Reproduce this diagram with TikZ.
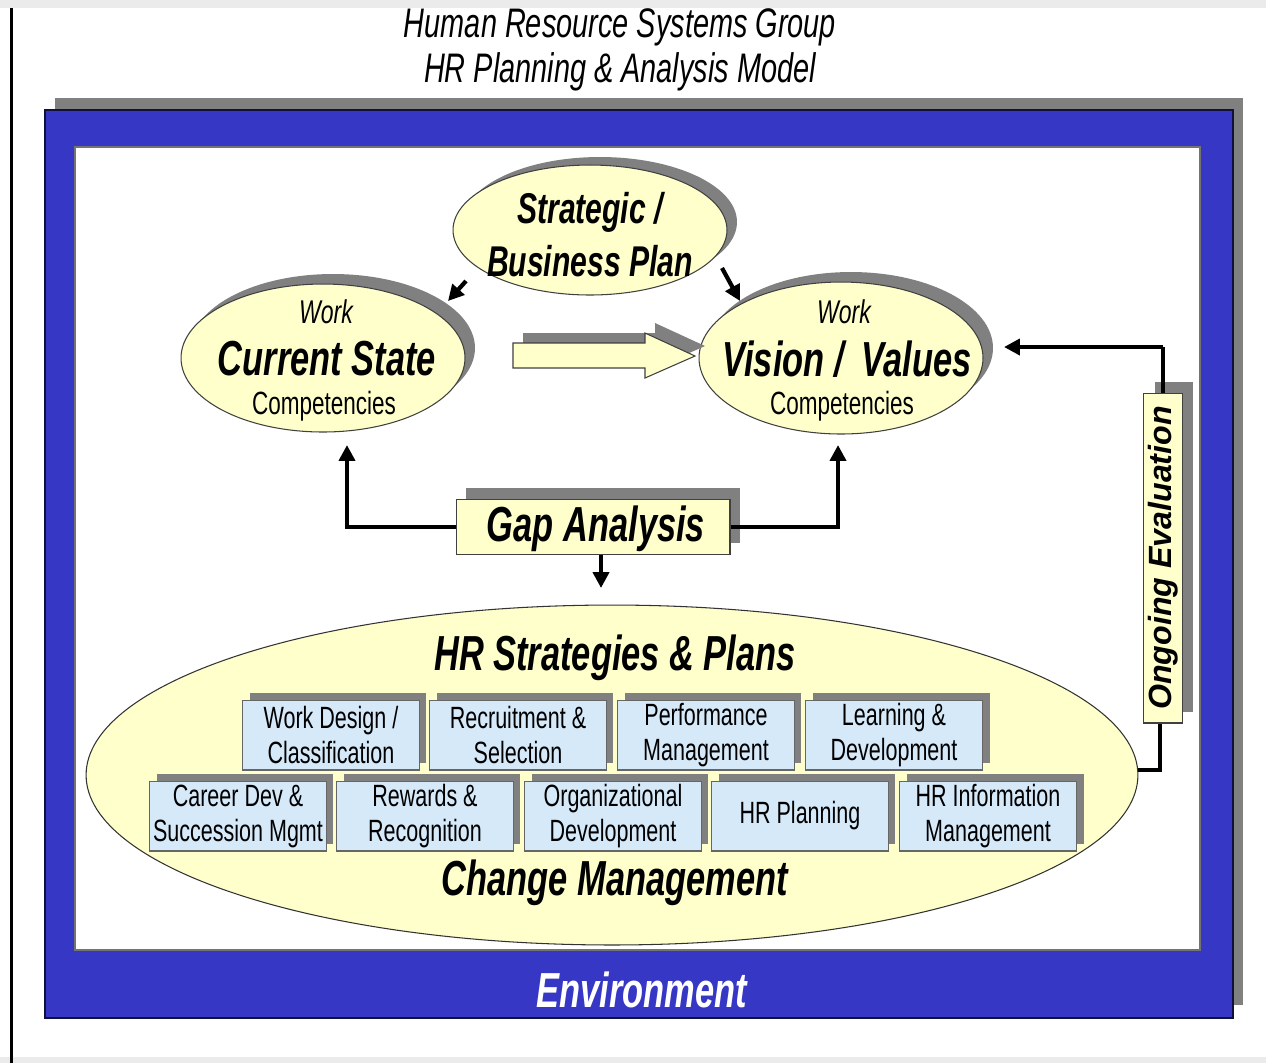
\documentclass[tikz,border=0pt]{standalone}
\usepackage{fontspec}
\setmainfont{Liberation Sans}
\newfontfamily\nar[FakeStretch=0.70]{Liberation Sans}
\usetikzlibrary{shapes.geometric,arrows.meta}
\definecolor{ylw}{HTML}{FFFFCC}
\definecolor{envblue}{HTML}{3737C6}
\definecolor{shd}{HTML}{808080}
\definecolor{bx}{HTML}{D5E9F9}
\begin{document}
\begin{tikzpicture}[x=0.02cm,y=-0.02cm,
  ell/.style={ellipse,draw=black!75,line width=0.6pt,fill=ylw,inner sep=0pt},
  ellshd/.style={ellipse,fill=shd,inner sep=0pt},
  arr/.style={line width=2.4pt,-{Triangle[length=9pt,width=9pt]}},
  conn/.style={line width=2.4pt},
  hrbox/.style={rectangle,fill=bx,draw=black!60,line width=0.6pt,minimum width=3.54cm,minimum height=1.4cm,inner sep=0pt,align=center,font=\nar\fontsize{17.5}{20}\selectfont},
  boxshd/.style={rectangle,fill=shd,minimum width=3.54cm,minimum height=1.4cm,inner sep=0pt},
  ttl/.style={font=\nar\itshape\fontsize{23.5}{26}\selectfont},
  big/.style={font=\nar\bfseries\itshape\fontsize{28}{30}\selectfont},
  sml/.style={font=\nar\fontsize{18.3}{20}\selectfont},
  smli/.style={font=\nar\itshape\fontsize{18.7}{20}\selectfont}
]
\useasboundingbox (0,0) rectangle (1266,1063);
% page edges
\fill[black!8] (0,0) rectangle (1266,8);
\fill[black!8] (0,1057) rectangle (1266,1063);
\fill[black] (10,8) rectangle (13,1063);
% title
\node[ttl] (t1) at (620,27) {Human Resource Systems Group};
\node[ttl] (t2) at (620,72) {HR Planning \& Analysis Model};
% frame
\fill[shd] (55,98) rectangle (1243,1005);
\filldraw[fill=envblue,draw=black!70!envblue,line width=0.8pt] (45,110) rectangle (1233,1018);
\filldraw[fill=white,draw=black!55,line width=1pt] (75,147) rectangle (1200,950);
\node[big,text=white] (env) at (642,990) {Environment};
% strategic
\node[ellshd,minimum width=5.48cm,minimum height=2.6cm] (strats) at (600,222) {};
\node[ell,minimum width=5.48cm,minimum height=2.6cm] (strat) at (590,230) {};
\node[big,font=\nar\bfseries\itshape\fontsize{24.5}{28}\selectfont] (st1) at (590,212) {Strategic /};
\node[big,font=\nar\bfseries\itshape\fontsize{24.5}{28}\selectfont] (st2) at (590,261) {Business Plan};
% current state
\node[ellshd,minimum width=5.68cm,minimum height=2.96cm] (curs) at (333,348) {};
\node[ell,minimum width=5.68cm,minimum height=2.96cm] (cur) at (323,358) {};
\node[smli] (cw) at (326,312) {Work};
\node[big] (ct) at (327,359) {Current State};
\node[sml] (cc) at (324,406) {Competencies};
% vision
\node[ellshd,minimum width=5.68cm,minimum height=3.04cm] (viss) at (851,348) {};
\node[ell,minimum width=5.68cm,minimum height=3.04cm] (vis) at (841,358) {};
\node[smli] (vw) at (844,312) {Work};
\node[big] (vt) at (847,359) {Vision /\ \,Values};
\node[sml] (vc) at (842,406) {Competencies};
% block arrow
\fill[shd] (523,333) -- (655,333) -- (655,323) -- (705,346) -- (655,368) -- (523,358) -- cycle;
\filldraw[fill=ylw,draw=black!75,line width=0.6pt] (513,343) -- (645,343) -- (645,333) -- (695,356) -- (645,378) -- (645,368) -- (513,368) -- cycle;
% arrows from strategic
\coordinate (a1s) at (466,281); \coordinate (a1e) at (448,301);
\coordinate (a2s) at (722,268); \coordinate (a2e) at (740,301);
\draw[arr] (a1s) -- (a1e);
\draw[arr] (a2s) -- (a2e);
% gap analysis
\fill[shd] (466,488) rectangle (740,543);
\node[rectangle,fill=ylw,draw=black!75,line width=0.6pt,minimum width=5.48cm,minimum height=1.1cm,inner sep=0pt] (gap) at (593,527) {};
\node[big] (gapt) at (596,529) {Gap Analysis};
\coordinate (gl) at (347,445); \coordinate (gr) at (838,445);
\draw[arr] (gap.west) -| (gl);
\draw[arr] (gap.east) -| (gr);
\coordinate (gd) at (601,588);
\draw[arr] (gap.south -| gd) -- (gd);
% big ellipse
\node[ell,draw=black!80,minimum width=21.04cm,minimum height=6.8cm] (hr) at (612,775) {};
\node[big] (hrt) at (615,658) {HR Strategies \& Plans};
\node[big] (cmt) at (615,883) {Change Management};
% boxes row 1
\foreach \x/\n/\t in {331/b1/{Work Design /\\Classification},518/b2/{Recruitment \&\\Selection},706/b3/{Performance\\Management},894/b4/{Learning \&\\Development}}{
  \node[boxshd] at (\x+7,728) {};
  \node[hrbox] (\n) at (\x,735) {\t};
}
\foreach \x/\n/\t in {238/c1/{Career Dev \&\\Succession Mgmt},425/c2/{Rewards \&\\Recognition},613/c3/{Organizational\\Development},800/c4/{HR Planning},988/c5/{HR Information\\Management}}{
  \node[boxshd] at (\x+7,809) {};
  \node[hrbox] (\n) at (\x,816) {\t};
}
% ongoing evaluation
\fill[shd] (1155,382) rectangle (1193,712);
\node[rectangle,rotate=90,fill=ylw,draw=black!75,line width=0.6pt,minimum width=6.6cm,minimum height=0.78cm,inner sep=0pt,font=\bfseries\itshape\fontsize{18.3}{20}\selectfont] (ong) at (1163,558) {Ongoing Evaluation};
\coordinate (oe1) at (1160,770);
\draw[conn] (hr.east |- oe1) -- (oe1) -- (oe1 |- ong.west);
\coordinate (oe2) at (1163,347); \coordinate (oe3) at (1004,347);
\draw[conn] (ong.east) -- (oe2);
\draw[arr] (oe2) -- (oe3);
\end{tikzpicture}
\end{document}
